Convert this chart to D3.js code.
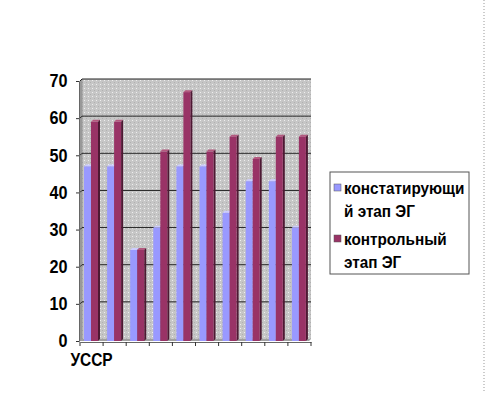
<!DOCTYPE html>
<html>
<head>
<meta charset="utf-8">
<script src="https://cdn.jsdelivr.net/npm/d3@7"></script>
<style>
  body { margin: 0; background: #fff; }
  text { font-family: "Liberation Sans", Arial, sans-serif; font-weight: bold; }
</style>
</head>
<body>
<svg id="chart" width="485" height="393"></svg>
<script>
// data
let categories = ["УССР", "2", "3", "4", "5", "6", "7", "8", "9", "10"];
let tickLabels = ["УССР", "", "", "", "", "", "", "", "", ""];
let seriesNames = ["констатирующий этап ЭГ", "контрольный этап ЭГ"];
let stage1 = [47, 47, 24.5, 30.5, 47, 47, 34.5, 43, 43, 30.5];
let stage2 = [59, 59, 24.5, 51, 67, 51, 55, 49, 55, 55];
let yTicks = [0, 10, 20, 30, 40, 50, 60, 70];

let svg = d3.select("#chart");
let colors = ["#9999ff", "#993366"];
let sideColors = ["#6666b3", "#4d1933"];
let topColors = ["#ccccff", "#b3597f"];

let xScale = d3.scaleBand().domain(categories).range([80, 311]),
    yScale = d3.scaleLinear().domain([0, 70]).range([341, 81]);

let depthX = 2, depthY = 2;

// dotted right border
svg.append("line")
    .attr("x1", 484).attr("x2", 484)
    .attr("y1", 0).attr("y2", 393)
    .attr("stroke", "#999")
    .attr("stroke-dasharray", "1,2");

// wall pattern
let defs = svg.append("defs");
let pat = defs.append("pattern")
    .attr("id", "wall")
    .attr("width", 4).attr("height", 4)
    .attr("patternUnits", "userSpaceOnUse");
pat.append("rect").attr("width", 4).attr("height", 4).attr("fill", "#c6c6c6");
pat.append("rect").attr("x", 0).attr("y", 0).attr("width", 1).attr("height", 1).attr("fill", "#eeeeee");
pat.append("rect").attr("x", 2).attr("y", 2).attr("width", 1).attr("height", 1).attr("fill", "#b0b0b0");

let g = svg.append("g");

// back wall
g.append("rect")
    .attr("x", xScale.range()[0] + depthX)
    .attr("y", yScale(70) - depthY)
    .attr("width", xScale.range()[1] - xScale.range()[0] - depthX)
    .attr("height", yScale(0) - yScale(70))
    .attr("fill", "url(#wall)");

// side wall
g.append("path")
    .attr("d", `M${xScale.range()[0]},${yScale(70)} L${xScale.range()[0] + depthX},${yScale(70) - depthY}
        L${xScale.range()[0] + depthX},${yScale(0) - depthY} L${xScale.range()[0]},${yScale(0)} Z`)
    .attr("fill", "#a8a8a8")
    .attr("stroke", "#777")
    .attr("stroke-width", 0.6);

// gridlines
g.selectAll(".grid")
    .data(yTicks.slice(1))
    .enter()
    .append("path")
    .attr("class", "grid")
    .attr("d", (d) => `M${xScale.range()[0]},${yScale(d)} L${xScale.range()[0] + depthX},${yScale(d) - depthY} L${xScale.range()[1]},${yScale(d) - depthY}`)
    .attr("fill", "none")
    .attr("stroke", "#222")
    .attr("stroke-width", 1);

// floor
g.append("path")
    .attr("d", `M${xScale.range()[0]},${yScale(0)} L${xScale.range()[0] + depthX},${yScale(0) - depthY}
        L${xScale.range()[1]},${yScale(0) - depthY} L${xScale.range()[1] - depthX},${yScale(0)} Z`)
    .attr("fill", "#a0a0a0");

// y axis
let yAxis = g.append("g")
    .attr("transform", "translate(" + (xScale.range()[0] - 1) + ",0)")
    .call(d3.axisLeft(yScale).tickValues(yTicks).tickSize(3).tickPadding(3));
yAxis.select(".domain").attr("stroke", "#666");
yAxis.selectAll(".tick line").attr("stroke", "#333");
yAxis.selectAll(".tick text")
    .attr("font-size", "18px")
    .attr("font-weight", "bold")
    .attr("font-family", "Liberation Sans, Arial, sans-serif")
    .attr("fill", "#000")
    .attr("transform", "translate(-6,0) scale(0.9,1)");

// x axis
let xAxis = g.append("g")
    .attr("transform", "translate(0," + (yScale(0) + 1) + ")")
    .call(d3.axisBottom(xScale).tickSize(0).tickPadding(11).tickFormat((d, i) => tickLabels[i]));
xAxis.select(".domain").attr("stroke", "#666");
xAxis.selectAll(".tick text")
    .attr("font-size", "18px")
    .attr("font-weight", "bold")
    .attr("font-family", "Liberation Sans, Arial, sans-serif")
    .attr("fill", "#000")
    .attr("transform", "scale(0.86,1)");
// category boundary ticks
g.selectAll(".xtick")
    .data(categories.concat(["end"]))
    .enter()
    .append("line")
    .attr("class", "xtick")
    .attr("x1", (d, i) => xScale.range()[0] + i * xScale.step())
    .attr("x2", (d, i) => xScale.range()[0] + i * xScale.step())
    .attr("y1", yScale(0) + 1)
    .attr("y2", yScale(0) + 5)
    .attr("stroke", "#333");

// bars
let barW = 7, offset = 4;
[stage1, stage2].forEach(function (values, s) {
    let bars = g.selectAll(".bar" + s)
        .data(values)
        .enter()
        .append("g")
        .attr("class", "bar" + s);
    let x0 = (d, i) => xScale(categories[i]) + offset + s * barW;
    // top face
    bars.append("path")
        .attr("d", (d, i) => {
            let x = x0(d, i), y = yScale(d);
            return `M${x},${y} L${x + depthX},${y - depthY} L${x + barW + depthX},${y - depthY} L${x + barW},${y} Z`;
        })
        .attr("fill", topColors[s]);
    // side face
    bars.append("path")
        .attr("d", (d, i) => {
            let x = x0(d, i) + barW, y = yScale(d);
            return `M${x},${y} L${x + depthX},${y - depthY} L${x + depthX},${yScale(0) - depthY} L${x},${yScale(0)} Z`;
        })
        .attr("fill", sideColors[s]);
    // front face
    bars.append("rect")
        .attr("x", (d, i) => x0(d, i))
        .attr("y", (d) => yScale(d))
        .attr("width", barW)
        .attr("height", (d) => yScale(0) - yScale(d))
        .attr("fill", colors[s]);
});

// legend
let legend = svg.append("g").attr("transform", "translate(330,172)");
legend.append("rect")
    .attr("width", 139)
    .attr("height", 102)
    .attr("fill", "#fff")
    .attr("stroke", "#555")
    .attr("stroke-width", 1);
let legendLines = [["констатирующи", "й этап ЭГ"], ["контрольный", "этап ЭГ"]];
legendLines.forEach(function (lines, i) {
    let y0 = 22 + i * 51;
    legend.append("rect")
        .attr("x", 4)
        .attr("y", y0 - 10)
        .attr("width", 7)
        .attr("height", 7)
        .attr("fill", colors[i])
        .attr("stroke", "#555")
        .attr("stroke-width", 0.5);
    lines.forEach(function (t, j) {
        legend.append("text")
            .attr("transform", "translate(14," + (y0 + j * 23) + ") scale(0.9,1)")
            .attr("font-size", "17px")
            .attr("fill", "#000")
            .text(t);
    });
});
</script>
</body>
</html>
